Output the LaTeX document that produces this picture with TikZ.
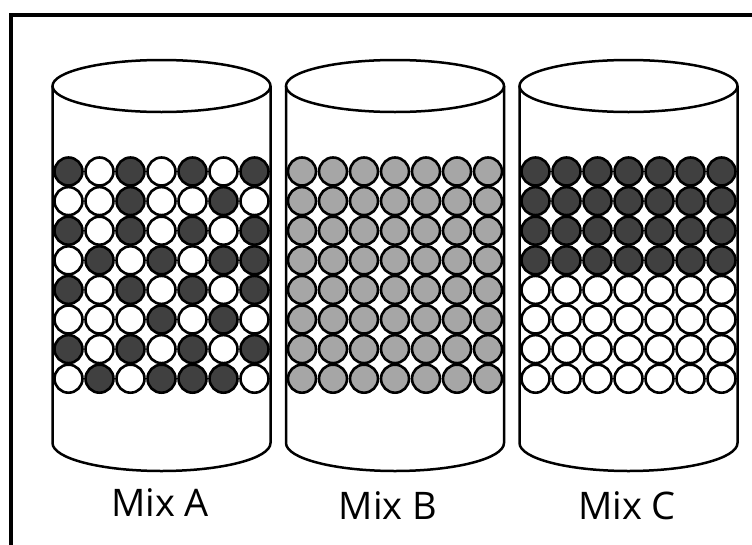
\documentclass[tikz,border=0pt]{standalone}
\usepackage{fontspec}
\setmainfont{Open Sans}
\definecolor{darkball}{HTML}{404040}
\definecolor{grayball}{HTML}{A6A6A6}
\tikzset{
  outline/.style={draw=black, line width=2.5pt},
  frameline/.style={draw=black, line width=3.5pt},
  ballD/.style={draw=black, line width=2.6pt, fill=darkball},
  ballW/.style={draw=black, line width=2.6pt, fill=white},
  ballG/.style={draw=black, line width=2.6pt, fill=grayball},
  lbl/.style={font=\fontsize{38}{44}\selectfont, inner sep=0pt, anchor=center}
}
\newcommand{\cylinder}[1]{%
  \pgfmathsetmacro{\cl}{#1-109}%
  \pgfmathsetmacro{\cr}{#1+109}%
  \pgfmathsetmacro{\kl}{#1-60.2}%
  \pgfmathsetmacro{\kr}{#1+60.2}%
  \draw[outline] (#1,86) ellipse [x radius=109, y radius=26];
  \draw[outline, line join=round] (\cl,86) -- (\cl,443)
     .. controls (\cl,458.5) and (\kl,471) .. (#1,471)
     .. controls (\kr,471) and (\cr,458.5) .. (\cr,443) -- (\cr,86);
}
\begin{document}
\begin{tikzpicture}[x=1pt,y=-1pt]
\useasboundingbox (0,0) rectangle (752,544);
\fill[white] (0,0) rectangle (752,544);
\draw[frameline] (10.8,15) rectangle (780,580);
\cylinder{161.5}
\cylinder{395}
\cylinder{628.5}
% Mix A
\foreach [count=\r] \rowpat in {{D,W,D,W,D,W,D},{W,W,D,W,W,D,W},{D,W,D,W,D,W,D},{W,D,W,D,W,D,D},{D,W,D,W,D,W,D},{W,W,W,D,W,D,W},{D,W,D,W,D,W,D},{W,D,W,D,D,D,W}}{
  \foreach [count=\c] \k in \rowpat {
    \draw[ball\k] ({161.5-93+31*(\c-1)},{171.5+29.6*(\r-1)}) circle (14);
  }
}
% Mix B
\foreach \r in {1,...,8}{
  \foreach \c in {1,...,7}{
    \draw[ballG] ({395-93+31*(\c-1)},{171.5+29.6*(\r-1)}) circle (14);
  }
}
% Mix C
\foreach \r in {1,...,8}{
  \foreach \c in {1,...,7}{
    \pgfmathsetmacro{\kind}{\r<5 ? 1 : 0}
    \ifdim\kind pt>0.5pt
      \draw[ballD] ({628.5-93+31*(\c-1)},{171.5+29.6*(\r-1)}) circle (14);
    \else
      \draw[ballW] ({628.5-93+31*(\c-1)},{171.5+29.6*(\r-1)}) circle (14);
    \fi
  }
}
\node[lbl] (labA) at (160,503) {Mix A};
\node[lbl] (labB) at (388,506) {Mix B};
\node[lbl] (labC) at (627,506) {Mix C};
\end{tikzpicture}
\end{document}
